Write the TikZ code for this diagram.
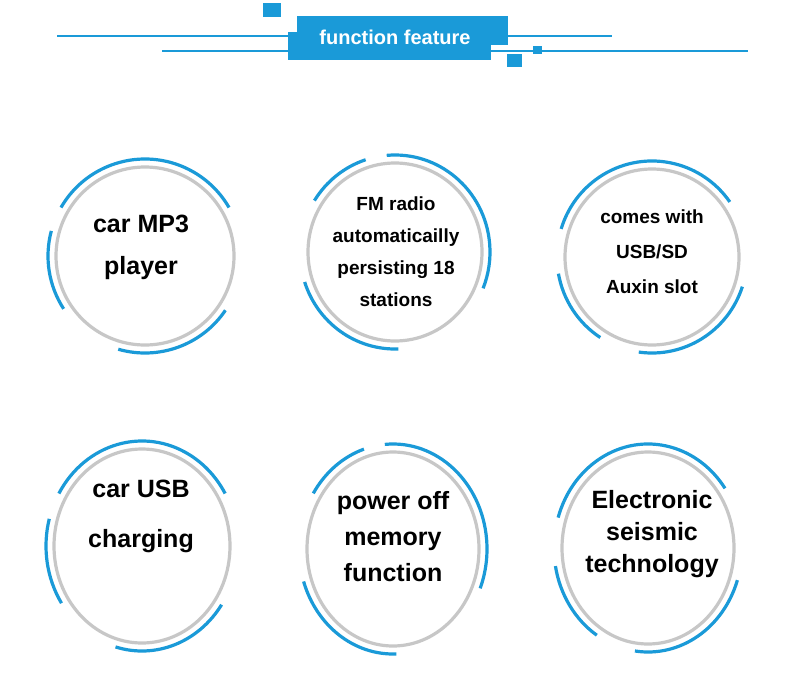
\documentclass[tikz,border=0pt]{standalone}
\usepackage{fontspec}
\setmainfont{Liberation Sans}
\begin{document}
\begin{tikzpicture}[x=1pt,y=-1pt,
  bl/.style={line width=3.2pt,draw=myblue},
  gr/.style={line width=3.2pt,draw=black!22},
  lab/.style={font=\bfseries,align=center,text=black}]
\definecolor{myblue}{HTML}{1A9AD8}
\useasboundingbox[fill=white] (0,0) rectangle (790,696);
% header
\draw[myblue,line width=1.4pt] (57,36) -- (612,36);
\draw[myblue,line width=1.4pt] (162,51) -- (748,51);
\fill[myblue] (263,3) rectangle (281,17);
\fill[myblue] (297,16) rectangle (508,45);
\fill[myblue] (288,32) rectangle (491,60);
\fill[myblue] (507,54) rectangle (522,67);
\fill[myblue] (533,46) rectangle (542,54);
\node[font=\bfseries\fontsize{20}{24}\selectfont,text=white] (title) at (395,37) {function feature};
% circle type A
\newcommand{\circA}[5]{%
  \draw[gr] (#1,#2) ellipse [x radius=#3,y radius=#4];
  \draw[bl] (#1,#2) ++(150:#3+8 and -#4-8) arc [start angle=150,end angle=30,x radius=#3+8,y radius=-#4-8];
  \draw[bl] (#1,#2) ++(165:#3+8 and -#4-8) arc [start angle=165,end angle=213,x radius=#3+8,y radius=-#4-8];
  \draw[bl] (#1,#2) ++(-106:#3+8 and -#4-8) arc [start angle=-106,end angle=-34,x radius=#3+8,y radius=-#4-8];
  #5}
\newcommand{\circB}[5]{%
  \draw[gr] (#1,#2) ellipse [x radius=#3,y radius=#4];
  \draw[bl] (#1,#2) ++(148:#3+8 and -#4-8) arc [start angle=148,end angle=108,x radius=#3+8,y radius=-#4-8];
  \draw[bl] (#1,#2) ++(95:#3+8 and -#4-8) arc [start angle=95,end angle=-22,x radius=#3+8,y radius=-#4-8];
  \draw[bl] (#1,#2) ++(198:#3+8 and -#4-8) arc [start angle=198,end angle=272,x radius=#3+8,y radius=-#4-8];
  #5}
\newcommand{\circC}[5]{%
  \draw[gr] (#1,#2) ellipse [x radius=#3,y radius=#4];
  \draw[bl] (#1,#2) ++(163:#3+8 and -#4-8) arc [start angle=163,end angle=35,x radius=#3+8,y radius=-#4-8];
  \draw[bl] (#1,#2) ++(190:#3+8 and -#4-8) arc [start angle=190,end angle=237,x radius=#3+8,y radius=-#4-8];
  \draw[bl] (#1,#2) ++(-98:#3+8 and -#4-8) arc [start angle=-98,end angle=-18,x radius=#3+8,y radius=-#4-8];
  #5}
\circA{145}{256}{89}{89}{\node[lab,font=\bfseries\fontsize{25}{42}\selectfont] (c1) at (141,247) {car MP3\\player};}
\circB{395}{252}{87}{89}{\node[lab,font=\bfseries\fontsize{19}{32}\selectfont] (c2) at (396,252) {FM radio\\automaticailly\\persisting 18\\stations};}
\circC{652}{257}{87}{88}{\node[lab,font=\bfseries\fontsize{19}{35}\selectfont] (c3) at (652,252) {comes with\\USB/SD\\Auxin slot};}
\circA{142}{546}{88}{97}{\node[lab,font=\bfseries\fontsize{25}{50}\selectfont] (c4) at (141,516) {car USB\\charging};}
\circB{393}{549}{86}{97}{\node[lab,font=\bfseries\fontsize{25}{36}\selectfont] (c5) at (393,537) {power off\\memory\\function};}
\circC{648}{548}{86}{96}{\node[lab,font=\bfseries\fontsize{25}{32}\selectfont] (c6) at (652,534) {Electronic\\seismic\\technology};}
\end{tikzpicture}
\end{document}
